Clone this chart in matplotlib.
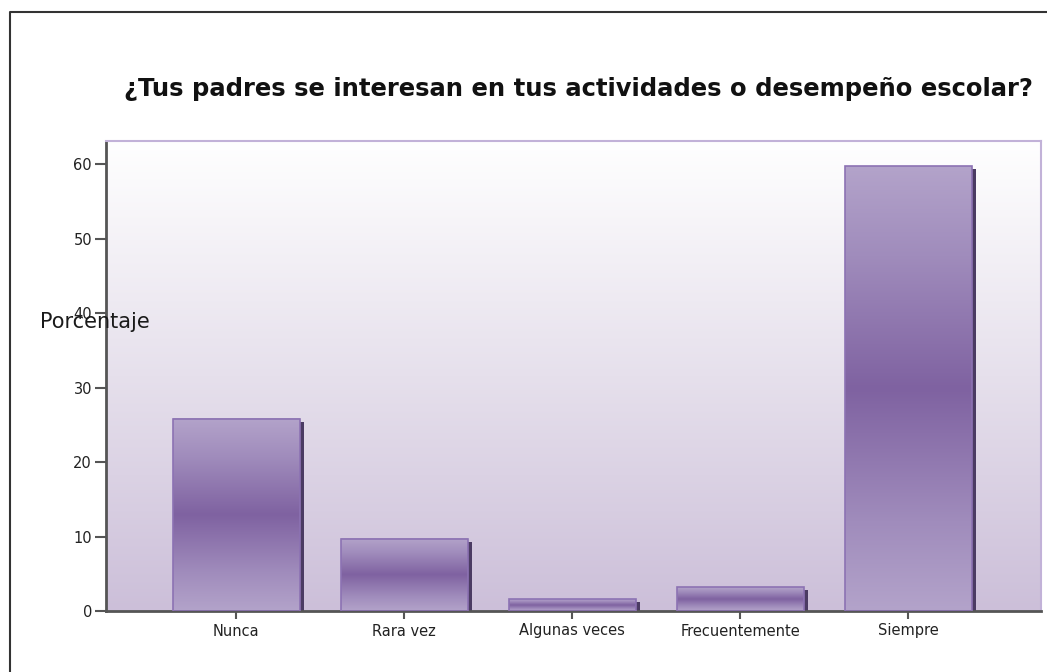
import numpy as np
import matplotlib
matplotlib.use("Agg")
import matplotlib.pyplot as plt
from matplotlib.colors import LinearSegmentedColormap
from matplotlib.transforms import offset_copy

# data
categorias = ["Nunca", "Rara vez", "Algunas veces", "Frecuentemente", "Siempre"]
porcentaje = [25.8, 9.7, 1.6, 3.2, 59.7]
y_ticks = [0, 10, 20, 30, 40, 50, 60]
titulo = "¿Tus padres se interesan en tus actividades o desempeño escolar?"

fig = plt.figure(figsize=(10.47, 6.72), dpi=100)
ax = fig.add_axes([106 / 1047, 1 - 611 / 672, (1041 - 106) / 1047, (611 - 141) / 672])

x = np.arange(len(categorias))
xlim = (-0.774, 4.79)
ylim = (0, 63.1)

# background gradient, white on top -> lavender at bottom
bg_cmap = LinearSegmentedColormap.from_list("bg", ["#ccbfd9", "#e6e0ec", "#ffffff"])
grad = np.linspace(0, 1, 256).reshape(-1, 1)
ax.imshow(grad, aspect="auto", cmap=bg_cmap, origin="lower",
          extent=[xlim[0], xlim[1], ylim[0], ylim[1]], zorder=0)

# shadow bars, shifted right/down a few pixels
shadow_tr = offset_copy(ax.transData, fig=fig, x=4, y=-3, units="dots")
ax.bar(x, porcentaje, width=0.755, color="#4b3b63", transform=shadow_tr, zorder=1)

# main bars with light-dark-light gradient
bar_cmap = LinearSegmentedColormap.from_list(
    "bar", [(0, "#b3a3ca"), (0.2, "#a08cbc"), (0.5, "#7f62a1"), (0.8, "#a08cbc"), (1, "#b3a3ca")])
bars = ax.bar(x, porcentaje, width=0.755, facecolor="none", edgecolor="#8c72b3",
              linewidth=1.2, zorder=3)
for b in bars:
    x0, y0 = b.get_x(), b.get_y()
    w, h = b.get_width(), b.get_height()
    ax.imshow(grad, aspect="auto", cmap=bar_cmap, origin="lower",
              extent=[x0, x0 + w, y0, y0 + h], zorder=2)

ax.set_xlim(*xlim)
ax.set_ylim(*ylim)

ax.set_xticks(x)
ax.set_xticklabels(categorias, fontsize=10.5, family="DejaVu Sans", color="#222222")
ax.set_yticks(y_ticks)
ax.set_yticklabels([str(t) for t in y_ticks], fontsize=10.5, family="DejaVu Sans", color="#222222")
ax.tick_params(axis="y", length=8, width=1.5, color="#555555", pad=2)
ax.tick_params(axis="x", length=6, width=1.5, color="#555555", pad=3)

for s in ["left", "bottom"]:
    ax.spines[s].set_color("#555555")
    ax.spines[s].set_linewidth(2)
for s in ["top", "right"]:
    ax.spines[s].set_color("#c2b2d8")
    ax.spines[s].set_linewidth(1.5)

# y label sits horizontally over the 40 tick, as in the original
fig.text(40 / 1047, 1 - 322 / 672, "Porcentaje", fontsize=15, family="DejaVu Sans",
         ha="left", va="center", color="#1a1a1a")
fig.text(578 / 1047, 1 - 89 / 672, titulo, fontsize=17.5, fontweight="bold",
         family="DejaVu Sans", ha="center", va="center", color="#111111")

# outer frame (left and top edges visible)
fig.add_artist(plt.Line2D([10 / 1047, 10 / 1047, 1.0], [0, 1 - 12 / 672, 1 - 12 / 672],
                          transform=fig.transFigure, color="#333333", linewidth=1.5))

fig.savefig("out.png", dpi=100)
